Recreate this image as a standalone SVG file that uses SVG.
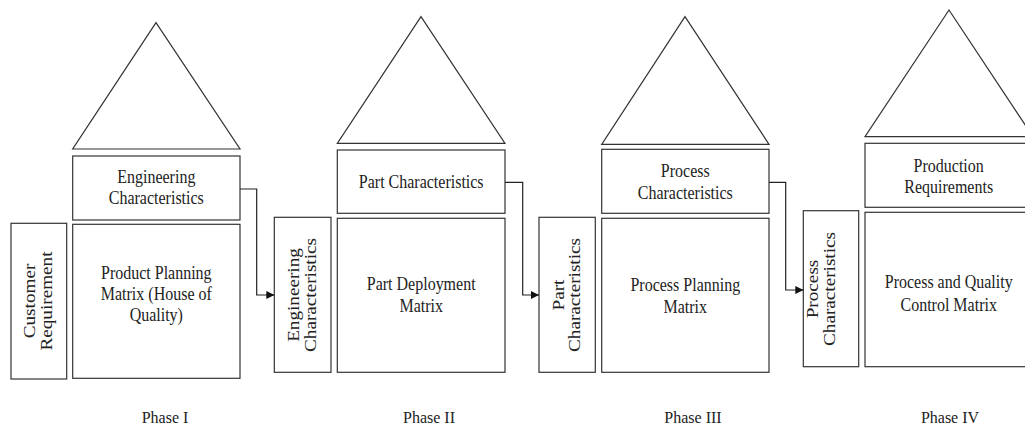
<svg xmlns="http://www.w3.org/2000/svg" width="1025" height="430" viewBox="0 0 1025 430">
<style>
.s{fill:#fff;stroke:#333;stroke-width:1.2}
.t{font-family:"Liberation Serif","Times New Roman",serif;font-size:16px;fill:#222;text-anchor:middle}
.c{fill:none;stroke:#222;stroke-width:1.2}
</style>
<defs>
<marker id="ah" viewBox="0 0 10 10" refX="10" refY="5" markerWidth="8" markerHeight="8" markerUnits="userSpaceOnUse" orient="auto">
<path d="M0,0 L10,5 L0,10 z" fill="#111"/>
</marker>
</defs>
<rect width="1025" height="430" fill="#fff"/>

<g id="phase1">
<polygon class="s" points="156,22.7 72.7,149 240,149"/>
<g id="p1-eng">
<rect class="s" x="72.7" y="156" width="167.3" height="64"/>
<text class="t" transform="translate(156.3,183) scale(1,1.15)"><tspan x="0" y="0">Engineering</tspan><tspan x="0" dy="18.3">Characteristics</tspan></text>
</g>
<g id="p1-matrix">
<rect class="s" x="72.7" y="224.3" width="167.3" height="154"/>
<text class="t" transform="translate(156.3,279) scale(1,1.15)"><tspan x="0" y="0">Product Planning</tspan><tspan x="0" dy="18.3">Matrix (House of</tspan><tspan x="0" dy="18.3">Quality)</tspan></text>
</g>
<g id="p1-cust">
<rect class="s" x="11" y="223.3" width="55.7" height="155.7"/>
<text class="t" transform="translate(35,301) rotate(-90) scale(1.2,1)"><tspan x="0" y="0">Customer</tspan><tspan x="0" dy="17">Requirement</tspan></text>
</g>
<text class="t" x="165" y="423">Phase I</text>
</g>

<g id="phase2">
<polygon class="s" points="421,16.7 337.3,143.3 505,143.3"/>
<g id="p2-part">
<rect class="s" x="337.3" y="150" width="167.7" height="63.3"/>
<text class="t" transform="translate(421.2,188) scale(1,1.15)">Part Characteristics</text>
</g>
<g id="p2-matrix">
<rect class="s" x="337.3" y="218.3" width="167.7" height="154"/>
<text class="t" transform="translate(421.2,290) scale(1,1.15)"><tspan x="0" y="0">Part Deployment</tspan><tspan x="0" dy="19">Matrix</tspan></text>
</g>
<g id="p2-eng">
<rect class="s" x="274.3" y="217.3" width="56.7" height="155"/>
<text class="t" transform="translate(299,295) rotate(-90) scale(1.2,1)"><tspan x="0" y="0">Engineering</tspan><tspan x="0" dy="17">Characteristics</tspan></text>
</g>
<text class="t" x="429" y="423">Phase II</text>
</g>

<g id="phase3">
<polygon class="s" points="685,16.7 601.7,144.3 769,144.3"/>
<g id="p3-proc">
<rect class="s" x="601.7" y="149.3" width="167.3" height="64"/>
<text class="t" transform="translate(685.3,177) scale(1,1.15)"><tspan x="0" y="0">Process</tspan><tspan x="0" dy="19">Characteristics</tspan></text>
</g>
<g id="p3-matrix">
<rect class="s" x="601.7" y="218.3" width="167.3" height="154"/>
<text class="t" transform="translate(685.3,291) scale(1,1.15)"><tspan x="0" y="0">Process Planning</tspan><tspan x="0" dy="19">Matrix</tspan></text>
</g>
<g id="p3-part">
<rect class="s" x="539" y="217.3" width="56.3" height="155"/>
<text class="t" transform="translate(563.5,295) rotate(-90) scale(1.2,1)"><tspan x="0" y="0">Part</tspan><tspan x="0" dy="17">Characteristics</tspan></text>
</g>
<text class="t" x="693" y="423">Phase III</text>
</g>

<g id="phase4">
<polygon class="s" points="949,10 865,136.7 1033,136.7"/>
<g id="p4-prod">
<rect class="s" x="865" y="143.3" width="168" height="64"/>
<text class="t" transform="translate(948.7,172) scale(1,1.15)"><tspan x="0" y="0">Production</tspan><tspan x="0" dy="18">Requirements</tspan></text>
</g>
<g id="p4-matrix">
<rect class="s" x="865" y="212.3" width="168" height="154.4"/>
<text class="t" transform="translate(948.7,288) scale(1,1.15)"><tspan x="0" y="0">Process and Quality</tspan><tspan x="0" dy="20">Control Matrix</tspan></text>
</g>
<g id="p4-proc">
<rect class="s" x="803.3" y="210.7" width="55.4" height="156"/>
<text class="t" transform="translate(818,289) rotate(-90) scale(1.2,1)"><tspan x="0" y="0">Process</tspan><tspan x="0" dy="17">Characteristics</tspan></text>
</g>
<text class="t" x="950" y="423">Phase IV</text>
</g>

<g id="connectors">
<path class="c" d="M240,189 H256.7 V295 H274.3" marker-end="url(#ah)"/>
<path class="c" d="M505,182.3 H522.7 V295 H539" marker-end="url(#ah)"/>
<path class="c" d="M769,182.3 H785.7 V290 H803.3" marker-end="url(#ah)"/>
</g>
</svg>
